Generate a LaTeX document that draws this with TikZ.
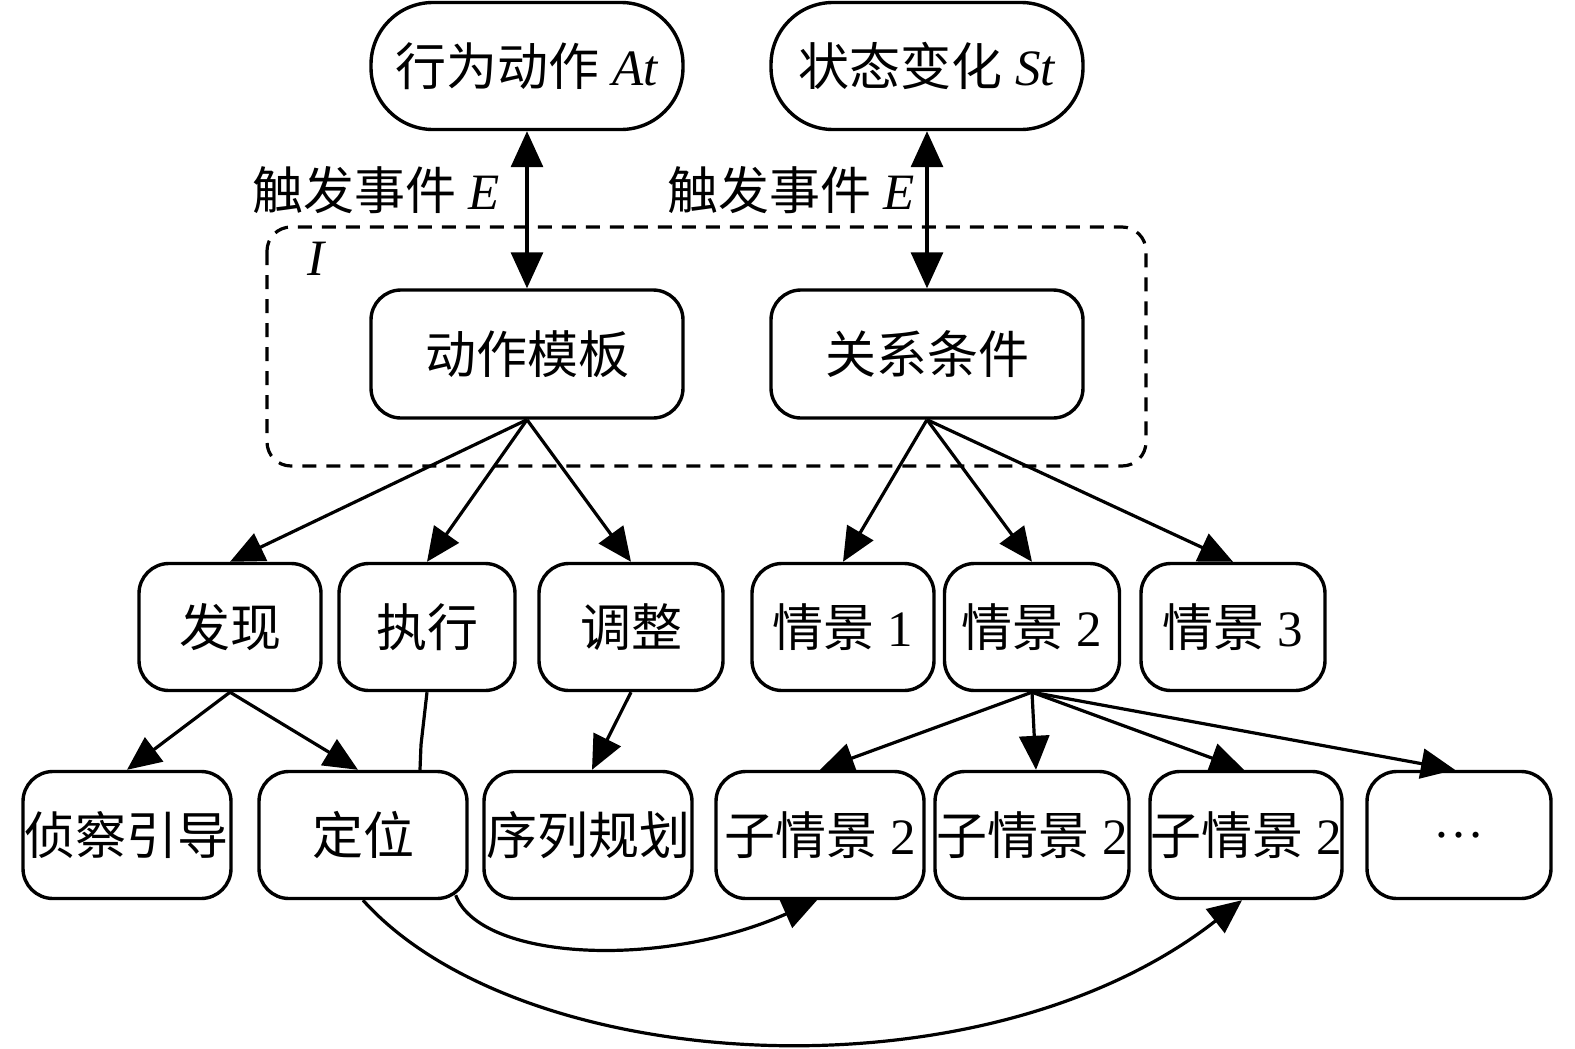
\documentclass[tikz,border=0pt]{standalone}
\usepackage{fontspec}
\setmainfont{Liberation Serif}
\newfontfamily\cjk{Noto Sans CJK SC}
\usetikzlibrary{arrows.meta,calc}
\begin{document}
\begin{tikzpicture}[x=0.5pt,y=-0.5pt,
  every node/.style={font=\fontsize{25.5}{30}\selectfont, inner sep=0pt, line width=1.7pt},
  topbox/.style={draw, rounded corners=31pt, minimum width=156pt, minimum height=63.5pt},
  midbox/.style={draw, rounded corners=15pt, minimum width=156pt, minimum height=64pt},
  smallbox/.style={draw, rounded corners=15pt, minimum height=63.5pt},
  arr/.style={line width=1.6pt, -{Triangle[length=17pt,width=15pt]}},
  darr/.style={line width=1.6pt, {Triangle[length=18pt,width=16pt]}-{Triangle[length=18pt,width=16pt]}},
  plain/.style={line width=1.6pt}
]
\useasboundingbox (0,0) rectangle (1575,1049);
% dashed group
\draw[line width=1.6pt, dash pattern=on 7pt off 5pt, rounded corners=12pt] (267,227) rectangle (1146,466);
\node[font=\fontsize{25.5}{30}\selectfont\itshape] (lblI) at (316,259) {I};
% top
\node[topbox] (At) at (527,66) {{\cjk 行为动作} \textit{At}};
\node[topbox] (St) at (927,66) {{\cjk 状态变化} \textit{St}};
\node[midbox] (tmpl) at (527,354) {\cjk 动作模板};
\node[midbox] (rel) at (927,354) {\cjk 关系条件};
\node (lblE1) at (376,190) {{\cjk 触发事件} \textit{E}};
\node (lblE2) at (791,190) {{\cjk 触发事件} \textit{E}};
% row 3
\node[smallbox, minimum width=91pt] (fx) at (230,627) {\cjk 发现};
\node[smallbox, minimum width=88pt] (zx) at (427,627) {\cjk 执行};
\node[smallbox, minimum width=92pt] (tz) at (631,627) {\cjk 调整};
\node[smallbox, minimum width=91pt] (q1) at (843,627) {{\cjk 情景} 1};
\node[smallbox, minimum width=87.5pt] (q2) at (1032,627) {{\cjk 情景} 2};
\node[smallbox, minimum width=92pt] (q3) at (1233,627) {{\cjk 情景} 3};
% row 4
\node[smallbox, minimum width=104pt] (zc) at (127,835) {\cjk 侦察引导};
\node[smallbox, minimum width=104pt] (dw) at (363,835) {\cjk 定位};
\node[smallbox, minimum width=104pt] (xl) at (588,835) {\cjk 序列规划};
\node[smallbox, minimum width=104pt] (z1) at (820,835) {{\cjk 子情景} 2};
\node[smallbox, minimum width=97pt] (z2) at (1032,835) {{\cjk 子情景} 2};
\node[smallbox, minimum width=96pt] (z3) at (1246,835) {{\cjk 子情景} 2};
\node[smallbox, minimum width=92pt] (dots) at (1459,835) {\ldots};
% double arrows
\draw[darr] (At.south) -- (tmpl.north);
\draw[darr] (St.south) -- (rel.north);
% tree arrows
\draw[arr] (tmpl.south) -- (fx.north);
\draw[arr] (tmpl.south) -- (zx.north);
\draw[arr] (tmpl.south) -- (tz.north);
\draw[arr] (rel.south) -- (q1.north);
\draw[arr] (rel.south) -- (q2.north);
\draw[arr] (rel.south) -- (q3.north);
\draw[arr] (fx.south) -- (zc.north);
\draw[arr] (fx.south) -- ($(dw.north)+(-5,0)$);
\draw[plain] (zx.south) -- ($(dw.north)+(58,-25)$) -- ($(dw.north)+(57,0)$);
\draw[arr] (tz.south) -- ($(xl.north)+(4,0)$);
\draw[arr] (q2.south) -- (z1.north);
\draw[arr] (q2.south) -- ($(z2.north)+(4,0)$);
\draw[arr] (q2.south) -- ($(z3.north)+(-2,0)$);
\draw[arr] (q2.south) -- ($(dots.north)+(-4,0)$);
% curves
\draw[arr] ($(dw.south east)+(-13,-5)$) .. controls (480,960) and (660,970) .. ($(z1.south)+(-3,0)$);
\draw[arr] (dw.south) .. controls (520,1075) and (980,1105) .. ($(z3.south)+(-4,0)$);
\end{tikzpicture}
\end{document}
